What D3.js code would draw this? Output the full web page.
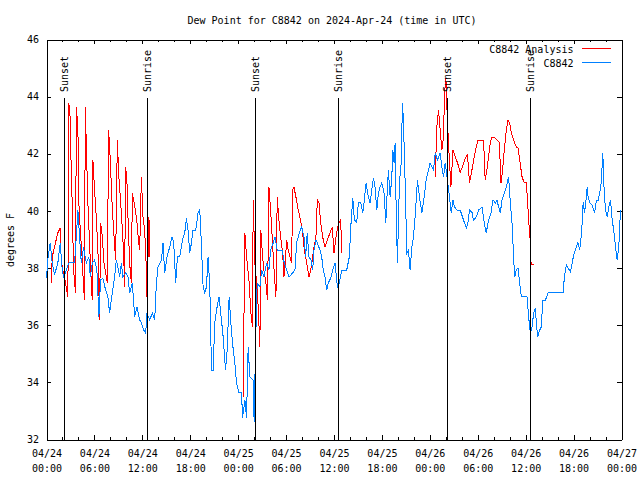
<!DOCTYPE html>
<html><head><meta charset="utf-8">
<script src="https://cdn.jsdelivr.net/npm/d3@7"></script>
<style>
body{margin:0;background:#fff}
svg text{font-family:"DejaVu Sans Mono",monospace;font-size:10px;fill:#000}
</style>
</head><body><svg id="chart" width="640" height="480"></svg>
<script>
const chartTitle = "Dew Point for C8842 on 2024-Apr-24 (time in UTC)";
const yAxisLabel = "degrees F";
const startTime = Date.UTC(2024, 3, 24);
const endTime = Date.UTC(2024, 3, 27);
const yTicks = [32, 34, 36, 38, 40, 42, 44, 46];
const seriesNames = ["C8842 Analysis", "C8842"];

// Observations (hours since 04/24 00:00 UTC, °F)
const obsHours = [0,0.16,0.46,0.72,1.00,1.42,1.72,1.97,2.17,2.47,2.80,3.10,3.51,3.73,3.93,4.14,4.35,4.64,4.98,5.31,5.48,5.73,6.02,6.31,6.56,6.77,7.06,7.40,7.69,7.90,8.24,8.53,8.74,8.94,9.16,9.37,9.57,9.91,10.20,10.41,10.75,11.04,11.33,11.67,11.88,12.17,12.42,12.58,12.92,13.26,13.55,13.76,13.96,14.39,14.59,14.80,15.09,15.43,15.72,15.93,16.18,16.39,16.68,17.02,17.31,17.52,17.72,17.94,18.15,18.35,18.69,18.98,19.19,19.41,19.61,19.82,20.03,20.23,20.45,20.66,20.86,21.07,21.29,21.61,21.91,22.12,22.42,22.62,22.87,23.08,23.29,23.58,23.80,24.08,24.42,24.55,24.84,25.05,25.25,25.46,25.88,26.00,26.18,26.38,26.72,26.93,27.22,27.56,27.85,28.06,28.39,28.60,28.89,29.23,29.52,29.77,30.07,30.39,30.82,31.11,31.32,31.65,31.95,32.24,32.45,32.65,32.87,33.12,33.33,33.49,33.74,33.91,34.25,34.46,34.66,34.87,35.09,35.29,35.59,35.84,36.13,36.42,36.67,36.97,37.59,37.92,38.10,38.35,38.55,38.85,39.05,39.35,39.60,39.76,40.02,40.30,40.52,40.73,40.93,41.14,41.36,41.56,41.77,41.98,42.27,42.49,42.61,42.81,43.03,43.24,43.36,43.53,43.65,43.78,43.94,44.19,44.41,44.57,44.69,44.91,45.12,45.32,45.53,45.75,45.95,46.16,46.45,46.70,47.00,47.29,47.54,47.83,48.04,48.46,48.67,48.96,49.30,49.51,49.71,49.92,50.21,50.46,50.68,50.89,51.09,51.39,51.80,52.22,52.56,52.77,52.97,53.27,53.47,53.81,54.10,54.53,54.81,55.06,55.35,55.66,55.91,56.20,56.41,56.61,56.82,57.04,57.32,57.58,57.86,58.08,58.29,58.49,58.62,58.83,59.04,59.25,59.46,59.83,60.17,60.37,60.59,60.80,61.00,61.22,61.34,61.50,61.75,61.97,62.13,62.47,62.81,63.10,63.94,64.69,64.85,65.10,65.32,65.61,65.82,66.02,66.36,66.52,66.77,66.94,67.07,67.20,67.36,67.52,67.70,67.82,68.02,68.33,68.62,68.87,69.08,69.28,69.46,69.66,69.78,69.99,70.21,70.41,70.62,70.83,71.03,71.25,71.46,71.66,71.87];
const obsValues = [37.65,38.28,38.88,38.18,37.76,38.18,38.88,37.93,37.65,37.93,38.18,38.21,38.18,39.09,40.03,39.09,38.18,38.74,38.18,38.39,37.69,38.18,38.28,37.93,36.29,37.58,37.65,37.23,36.99,36.43,37.13,37.69,38.28,38.04,37.69,38.18,37.69,37.83,37.69,37.13,37.48,36.29,36.64,36.18,36.08,35.83,35.73,36.43,36.18,36.43,36.18,37.48,38.04,38.28,38.88,37.83,38.39,38.74,39.09,38.88,37.48,38.39,38.39,38.98,39.23,39.75,39.33,38.53,38.88,39.33,39.33,39.93,40.03,38.74,37.34,37.13,37.34,38.39,37.34,34.43,34.43,36.08,36.53,36.99,36.18,35.59,34.43,35.13,36.99,36.08,35.38,34.68,33.98,33.63,33.63,32.77,33.38,32.77,35.24,34.19,34.08,32.60,35.38,37.48,37.34,37.93,37.69,38.18,37.93,38.63,38.88,39.09,38.63,38.63,38.63,38.18,37.93,37.69,37.83,37.93,38.88,39.23,39.44,39.09,38.39,39.23,38.39,38.28,37.93,38.63,38.98,38.88,38.63,38.39,37.93,37.69,37.23,37.48,37.65,37.93,38.18,37.34,37.48,37.93,37.93,38.39,39.44,40.45,39.68,39.61,40.28,40.28,39.93,40.28,40.98,40.49,40.28,40.73,41.15,40.84,40.03,40.63,40.84,40.98,40.63,39.58,40.38,41.43,40.49,41.19,42.13,41.68,42.38,40.14,38.18,40.98,41.68,43.78,43.18,40.98,38.53,38.63,37.93,38.74,39.09,39.79,41.08,40.49,39.93,40.49,41.08,41.43,41.68,41.43,42.03,41.78,42.03,41.54,41.19,41.68,41.08,40.49,39.93,40.38,40.14,40.03,40.03,39.68,39.40,39.58,40.03,39.96,39.68,39.79,40.03,40.14,39.58,39.23,39.68,39.93,40.38,40.28,40.38,40.14,39.93,40.38,40.63,40.84,41.19,40.28,39.58,38.39,37.69,37.93,38.00,37.48,36.99,36.99,36.99,36.29,35.73,35.94,36.43,36.60,36.08,35.59,35.83,35.94,36.88,36.88,37.13,37.16,37.16,37.16,37.69,38.11,38.00,37.86,38.18,38.46,38.74,38.91,38.63,39.09,39.58,40.31,39.93,40.28,40.84,40.49,40.28,40.21,39.93,40.38,40.38,40.63,40.98,42.03,40.98,40.03,39.79,40.14,40.38,39.68,39.33,38.74,38.28,38.74,40.03];

// Analysis (null = no analysis, gap in line)
const anaHours = [0.59,0.72,1.00,1.42,1.72,1.84,2.04,2.17,2.47,2.67,2.76,2.80,2.97,3.10,3.22,3.39,3.64,3.73,3.93,4.05,4.23,4.48,4.64,4.77,4.85,4.98,5.18,5.39,5.61,5.73,5.81,6.02,6.23,6.44,6.65,6.77,6.99,7.19,7.40,7.61,7.78,7.99,8.19,8.40,8.66,8.87,9.03,9.24,9.45,9.66,9.78,9.91,10.07,10.20,10.41,10.62,10.75,10.91,11.13,11.33,11.54,11.67,11.88,12.08,12.29,12.51,12.58,12.71,12.83,12.92,
  18.00,
  24.62,24.84,25.05,25.38,25.59,25.80,25.88,26.09,26.31,26.51,26.72,26.84,27.06,27.22,27.47,27.68,27.85,28.06,28.26,28.47,28.73,28.89,29.10,29.32,29.57,29.73,29.89,30.07,30.27,30.48,30.70,30.82,30.98,31.23,31.52,31.82,32.07,32.28,32.58,32.87,33.08,33.28,33.49,33.74,33.91,34.12,34.33,34.58,34.87,35.16,35.50,35.79,36.00,36.25,36.46,36.67,36.84,36.97,
  42.00,
  48.67,48.88,49.08,49.30,49.51,49.71,49.84,50.01,50.21,50.43,50.64,50.89,51.18,51.47,51.80,52.09,52.43,52.72,52.97,53.27,53.56,53.81,54.02,54.73,54.93,55.15,55.35,55.57,55.78,56.20,56.70,56.91,57.11,57.32,57.58,57.79,57.99,58.20,58.49,58.83,59.04,59.25,59.55,59.83,60.08,60.25,60.46,60.59,60.67,60.80,61.00];
const anaValues = [37.48,38.39,38.74,39.23,39.40,38.28,37.93,37.83,37.34,36.99,40.38,43.78,43.25,41.33,40.28,37.93,37.13,43.64,42.94,40.28,39.33,38.28,37.34,36.88,43.64,42.38,40.28,38.88,37.48,36.88,41.78,40.73,39.79,38.63,36.18,39.58,39.09,38.18,37.83,37.48,42.83,41.78,40.38,39.33,38.28,42.48,41.33,40.49,39.58,38.53,37.34,41.54,41.08,39.79,38.18,37.48,40.63,40.38,40.03,39.58,38.88,38.63,41.19,39.79,39.33,37.93,36.99,38.39,39.79,38.39,
  null,
  33.49,39.23,38.39,37.48,36.43,35.94,40.38,38.18,37.48,36.64,35.24,39.33,38.39,37.93,37.48,36.88,40.84,40.03,39.09,38.04,36.99,40.49,39.68,39.09,38.53,37.69,38.18,38.98,38.63,38.39,38.18,40.73,40.84,40.49,40.03,39.68,39.23,38.63,38.18,37.69,37.93,38.28,38.74,39.09,40.38,40.28,39.58,39.09,38.74,38.98,39.23,39.44,38.53,39.09,39.44,39.61,39.68,38.53,
  null,
  41.19,42.94,43.53,42.83,42.13,42.59,44.13,44.65,43.08,41.89,40.84,42.13,41.89,41.68,41.36,41.54,41.85,41.96,40.98,41.43,41.89,42.24,42.48,42.48,41.08,41.43,41.89,42.38,42.59,42.55,42.41,40.98,41.43,42.13,42.83,43.18,43.08,42.73,42.48,42.24,42.20,41.78,41.19,40.98,40.98,40.28,39.33,38.88,38.18,38.11,38.11];

// Sun events (hours since 04/24 00:00 UTC)
const sunLabels = ["Sunset", "Sunrise", "Sunset", "Sunrise", "Sunset", "Sunrise"];
const sunHours = [2.17, 12.58, 26.15, 36.55, 50.21, 60.60];

const colors = {analysis: "#ff0000", obs: "#0080ff"};
const toDate = h => new Date(startTime + h * 3600000);

const svg = d3.select("#chart");
const pLeft = 46.5, pRight = 621.5, pTop = 39.5, pBottom = 439.5;

const x = d3.scaleUtc().domain([new Date(startTime), new Date(endTime)]).range([pLeft, pRight]);
const y = d3.scaleLinear().domain([32, 46]).range([pBottom, pTop]);

// title
svg.append("text").attr("x", 332).attr("y", 24).attr("text-anchor", "middle").text(chartTitle);
svg.append("text").attr("transform", "translate(10,240) rotate(-90)").attr("text-anchor", "middle")
  .attr("dy", "0.35em").text(yAxisLabel);

const major = d3.utcHour.every(6), minor = d3.utcHour.every(2);
function styleAxis(g){
  g.selectAll("path.domain").attr("stroke", "#000").attr("shape-rendering", "crispEdges");
  g.selectAll("line").attr("stroke", "#000").attr("shape-rendering", "crispEdges");
  g.selectAll("text").style("font-family", "'DejaVu Sans Mono',monospace").style("font-size", "10px").attr("fill", "#000");
}

// minor x ticks
svg.append("g").attr("transform", `translate(0,${pBottom})`)
  .call(d3.axisBottom(x).ticks(minor).tickSizeInner(-2.5).tickSizeOuter(0).tickFormat(""))
  .call(styleAxis).select(".domain").remove();
svg.append("g").attr("transform", `translate(0,${pTop})`)
  .call(d3.axisTop(x).ticks(minor).tickSizeInner(-2.5).tickSizeOuter(0).tickFormat(""))
  .call(styleAxis).select(".domain").remove();

// bottom axis with two-line labels
const fmtDate = d3.utcFormat("%m/%d"), fmtTime = d3.utcFormat("%H:%M");
const xb = svg.append("g").attr("transform", `translate(0,${pBottom})`)
  .call(d3.axisBottom(x).ticks(major).tickSizeInner(-4.5).tickSizeOuter(0).tickPadding(10.5).tickFormat(fmtDate))
  .call(styleAxis);
xb.selectAll(".tick text").each(function(d){
  const t = d3.select(this);
  t.text(null).attr("dy", null);
  t.append("tspan").attr("x", 0).attr("dy", "0.71em").text(fmtDate(d));
  t.append("tspan").attr("x", 0).attr("dy", "1.5em").text(fmtTime(d));
});
svg.append("g").attr("transform", `translate(0,${pTop})`)
  .call(d3.axisTop(x).ticks(major).tickSizeInner(-4.5).tickSizeOuter(0).tickFormat(""))
  .call(styleAxis);

svg.append("g").attr("transform", `translate(${pLeft},0)`)
  .call(d3.axisLeft(y).tickValues(yTicks).tickSizeInner(-4.5).tickSizeOuter(0).tickPadding(7.5).tickFormat(d3.format("d")))
  .call(styleAxis);
svg.append("g").attr("transform", `translate(${pRight},0)`)
  .call(d3.axisRight(y).tickValues(yTicks).tickSizeInner(-4.5).tickSizeOuter(0).tickFormat(""))
  .call(styleAxis);

// data
const obsData = obsHours.map((h, i) => ({t: toDate(h), v: obsValues[i]}));
const anaData = anaHours.map((h, i) => ({t: toDate(h), v: anaValues[i]}));
const line = d3.line().defined(d => d.v != null).x(d => x(d.t)).y(d => y(d.v));

svg.append("path").datum(anaData).attr("d", line).attr("fill", "none")
  .attr("stroke", colors.analysis).attr("stroke-width", 1).attr("shape-rendering", "crispEdges");
svg.append("path").datum(obsData).attr("d", line).attr("fill", "none")
  .attr("stroke", colors.obs).attr("stroke-width", 1).attr("shape-rendering", "crispEdges");

// sun event lines
const sunTop = y.invert(98);
const sg = svg.append("g").selectAll("g").data(sunHours).join("g");
sg.append("line")
  .attr("x1", h => Math.round(x(toDate(h))) + 0.5).attr("x2", h => Math.round(x(toDate(h))) + 0.5)
  .attr("y1", y(32)).attr("y2", y(sunTop))
  .attr("stroke", "#000").attr("stroke-width", 1).attr("shape-rendering", "crispEdges");
sg.append("text")
  .attr("transform", h => `translate(${Math.round(x(toDate(h))) + 0.5},92) rotate(-90)`)
  .attr("dy", "0.36em").text((h, i) => sunLabels[i]);

// legend
const lg = svg.append("g");
[[seriesNames[0], colors.analysis, 48.5], [seriesNames[1], colors.obs, 62.5]].forEach(([name, c, ly]) => {
  lg.append("text").attr("x", 573.5).attr("y", ly + 4).attr("text-anchor", "end").text(name);
  lg.append("line").attr("x1", 582).attr("x2", 611).attr("y1", ly).attr("y2", ly)
    .attr("stroke", c).attr("stroke-width", 1).attr("shape-rendering", "crispEdges");
});
</script>
</body></html>
